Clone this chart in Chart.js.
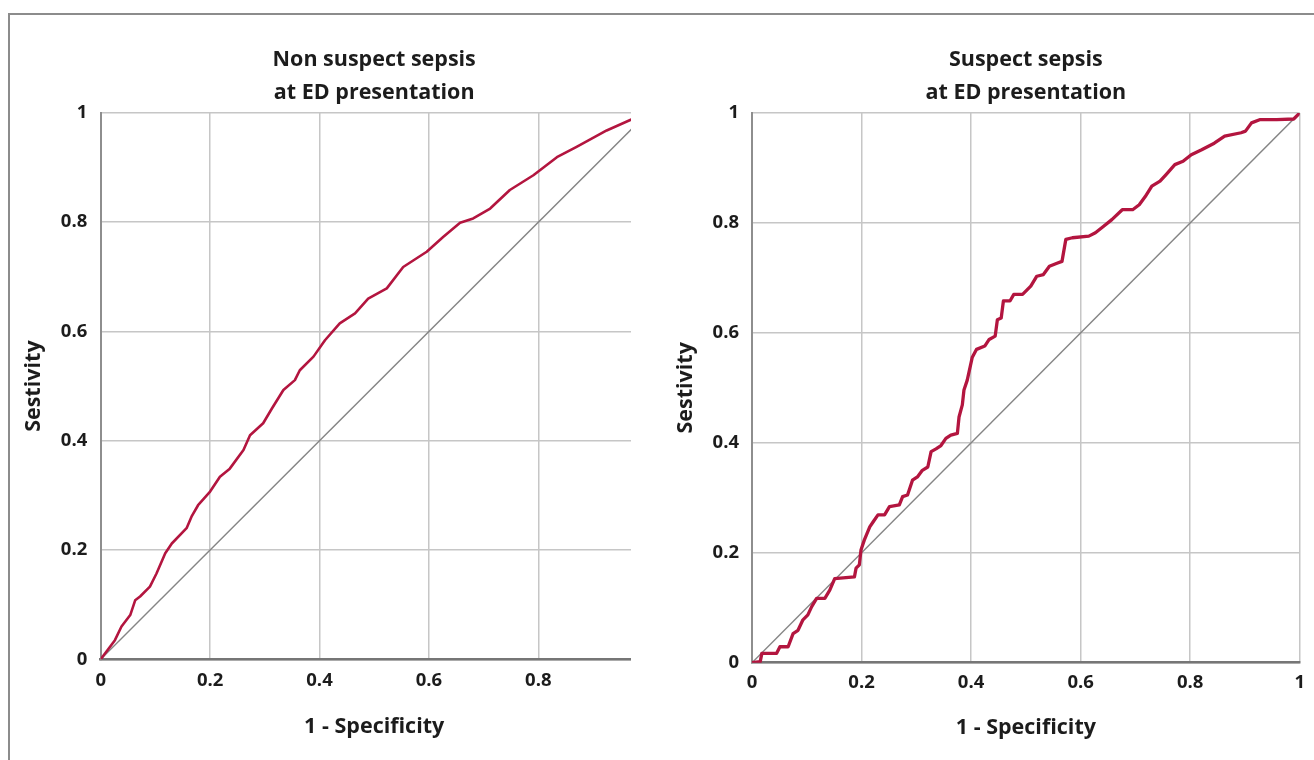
<!DOCTYPE html>
<html><head><meta charset="utf-8">
<script src="https://cdn.jsdelivr.net/npm/chart.js@4.4.1/dist/chart.umd.min.js"></script>
<style>
html,body{margin:0;padding:0;background:#fff;}
body{width:1314px;height:760px;position:relative;overflow:hidden;}
#clipL{position:absolute;left:0;top:0;width:631px;height:760px;overflow:hidden;}
#cL{position:absolute;left:0;top:0;}
#cR{position:absolute;left:650px;top:0;}
#frame{position:absolute;left:8px;top:13px;right:-10px;bottom:-10px;border-left:2px solid #8c8c8c;border-top:2px solid #8c8c8c;pointer-events:none;}
</style></head>
<body>
<div id="clipL"><canvas id="cL" width="680" height="760"></canvas></div>
<canvas id="cR" width="664" height="760"></canvas>
<div id="frame"></div>
<script>
// ---- data ----
const tickValues = [0, 0.2, 0.4, 0.6, 0.8, 1];
const tickLabels = ['0', '0.2', '0.4', '0.6', '0.8', '1'];
const titleLeft = ['Non suspect sepsis', 'at ED presentation'];
const titleRight = ['Suspect sepsis', 'at ED presentation'];
const xAxisTitle = '1 - Specificity';
const yAxisTitle = 'Sestivity';
const refX = [0, 1];
const refY = [0, 1];

const nonSuspectFpr = [0, 0.026, 0.038, 0.054, 0.063, 0.072, 0.090, 0.102, 0.118, 0.130,
  0.157, 0.166, 0.178, 0.200, 0.218, 0.236, 0.261, 0.273, 0.297, 0.313,
  0.334, 0.355, 0.364, 0.389, 0.410, 0.437, 0.465, 0.489, 0.523, 0.553,
  0.596, 0.626, 0.657, 0.681, 0.712, 0.748, 0.791, 0.834, 0.870, 0.925, 0.968, 1];
const nonSuspectTpr = [0, 0.035, 0.060, 0.081, 0.108, 0.115, 0.133, 0.157, 0.194, 0.212,
  0.240, 0.261, 0.282, 0.307, 0.334, 0.349, 0.383, 0.410, 0.432, 0.459,
  0.493, 0.511, 0.529, 0.554, 0.584, 0.615, 0.633, 0.660, 0.679, 0.718,
  0.746, 0.773, 0.799, 0.807, 0.825, 0.859, 0.886, 0.919, 0.938, 0.968, 0.987, 1];

const suspectFpr = [0, 0.015, 0.018, 0.045, 0.051, 0.066, 0.075, 0.084, 0.093, 0.102,
  0.109, 0.118, 0.133, 0.142, 0.151, 0.187, 0.190, 0.196, 0.199, 0.205,
  0.215, 0.221, 0.230, 0.242, 0.251, 0.269, 0.275, 0.284, 0.293, 0.302,
  0.311, 0.321, 0.327, 0.336, 0.345, 0.354, 0.363, 0.375, 0.378, 0.384,
  0.387, 0.393, 0.402, 0.410, 0.425, 0.433, 0.444, 0.448, 0.455, 0.459,
  0.471, 0.478, 0.494, 0.509, 0.520, 0.532, 0.543, 0.558, 0.566, 0.573,
  0.585, 0.615, 0.627, 0.642, 0.657, 0.676, 0.695, 0.707, 0.718, 0.730,
  0.745, 0.756, 0.772, 0.787, 0.802, 0.821, 0.844, 0.863, 0.893, 0.901,
  0.912, 0.928, 0.958, 0.989, 1.0];
const suspectTpr = [0, 0.002, 0.017, 0.017, 0.029, 0.029, 0.053, 0.059, 0.078, 0.087,
  0.102, 0.117, 0.117, 0.132, 0.153, 0.156, 0.172, 0.178, 0.205, 0.223,
  0.247, 0.256, 0.269, 0.269, 0.284, 0.287, 0.302, 0.305, 0.332, 0.338,
  0.350, 0.356, 0.384, 0.389, 0.395, 0.408, 0.414, 0.417, 0.447, 0.469,
  0.496, 0.514, 0.555, 0.570, 0.576, 0.588, 0.594, 0.624, 0.627, 0.658,
  0.658, 0.670, 0.670, 0.685, 0.703, 0.706, 0.721, 0.727, 0.730, 0.770,
  0.773, 0.776, 0.782, 0.794, 0.806, 0.824, 0.824, 0.833, 0.848, 0.867,
  0.876, 0.888, 0.906, 0.912, 0.924, 0.933, 0.945, 0.958, 0.964, 0.967,
  0.982, 0.988, 0.988, 0.989, 1.0];

// ---- styling ----
const FONT = '"Open Sans", Lato, "DejaVu Sans", sans-serif';
const TXT = '#1c1c1c';
const RED = '#b3153f';
const GRID = '#c6c6c6';

function pts(xs, ys) { return xs.map((x, i) => ({x: x, y: ys[i]})); }

function makeChart(id, fpr, tpr, title, L) {
  const tickFont = {family: FONT, size: 18.5, weight: 'bold'};
  const axTitleFont = {family: FONT, size: 21.5, weight: 'bold', lineHeight: 1.2};
  return new Chart(document.getElementById(id), {
    type: 'scatter',
    data: {datasets: [
      {data: pts(fpr, tpr), showLine: true, borderColor: RED, backgroundColor: RED,
       borderWidth: L.lw, pointRadius: 0, tension: 0, order: 0,
       borderJoinStyle: 'round', borderCapStyle: 'round'},
      {data: pts(refX, refY), showLine: true, borderColor: '#858585', backgroundColor: '#858585',
       borderWidth: 1.4, pointRadius: 0, tension: 0, order: 1}
    ]},
    options: {
      responsive: false, animation: false, devicePixelRatio: 1,
      layout: {padding: {left: 0, top: 0, right: L.padRight, bottom: 0}},
      plugins: {
        legend: {display: false}, tooltip: {enabled: false},
        title: {display: true, text: title, fullSize: false, color: TXT,
          font: {family: FONT, size: 21.5, weight: 'bold', lineHeight: 1.52},
          padding: {top: 43.9, bottom: 3.7}}
      },
      scales: {
        x: {type: 'linear', min: 0, max: 1,
          afterBuildTicks: s => { s.ticks = tickValues.map(v => ({value: v})); },
          afterFit: s => { s.height = L.xh; },
          grid: {color: GRID, lineWidth: 1.5, drawTicks: false},
          border: {color: '#767676', width: 2.5},
          ticks: {padding: L.xtp, color: TXT, font: tickFont, maxRotation: 0, autoSkip: false,
            callback: v => tickLabels[tickValues.indexOf(v)]},
          title: {display: true, text: xAxisTitle, color: TXT, font: axTitleFont,
            padding: {top: 0, bottom: L.xttp}}},
        y: {type: 'linear', min: 0, max: 1,
          afterBuildTicks: s => { s.ticks = tickValues.map(v => ({value: v})); },
          afterFit: s => { s.width = L.yw; },
          grid: {color: GRID, lineWidth: 1.5, drawTicks: false},
          border: {color: '#8e8e8e', width: 2},
          ticks: {padding: L.ytp, color: TXT, font: tickFont, autoSkip: false,
            callback: v => tickLabels[tickValues.indexOf(v)]},
          title: {display: true, text: yAxisTitle, color: TXT, font: axTitleFont,
            padding: {top: L.yttp, bottom: 0}}}
      }
    }
  });
}

makeChart('cL', nonSuspectFpr, nonSuspectTpr, titleLeft,
  {lw: 2.6, padRight: 32.3, xh: 100.7, yw: 100.7, xtp: 10, ytp: 13.4, xttp: 20, yttp: 21});
makeChart('cR', suspectFpr, suspectTpr, titleRight,
  {lw: 3.3, padRight: 12, xh: 97.3, yw: 102, xtp: 9, ytp: 13, xttp: 19, yttp: 23});
</script>
</body></html>
